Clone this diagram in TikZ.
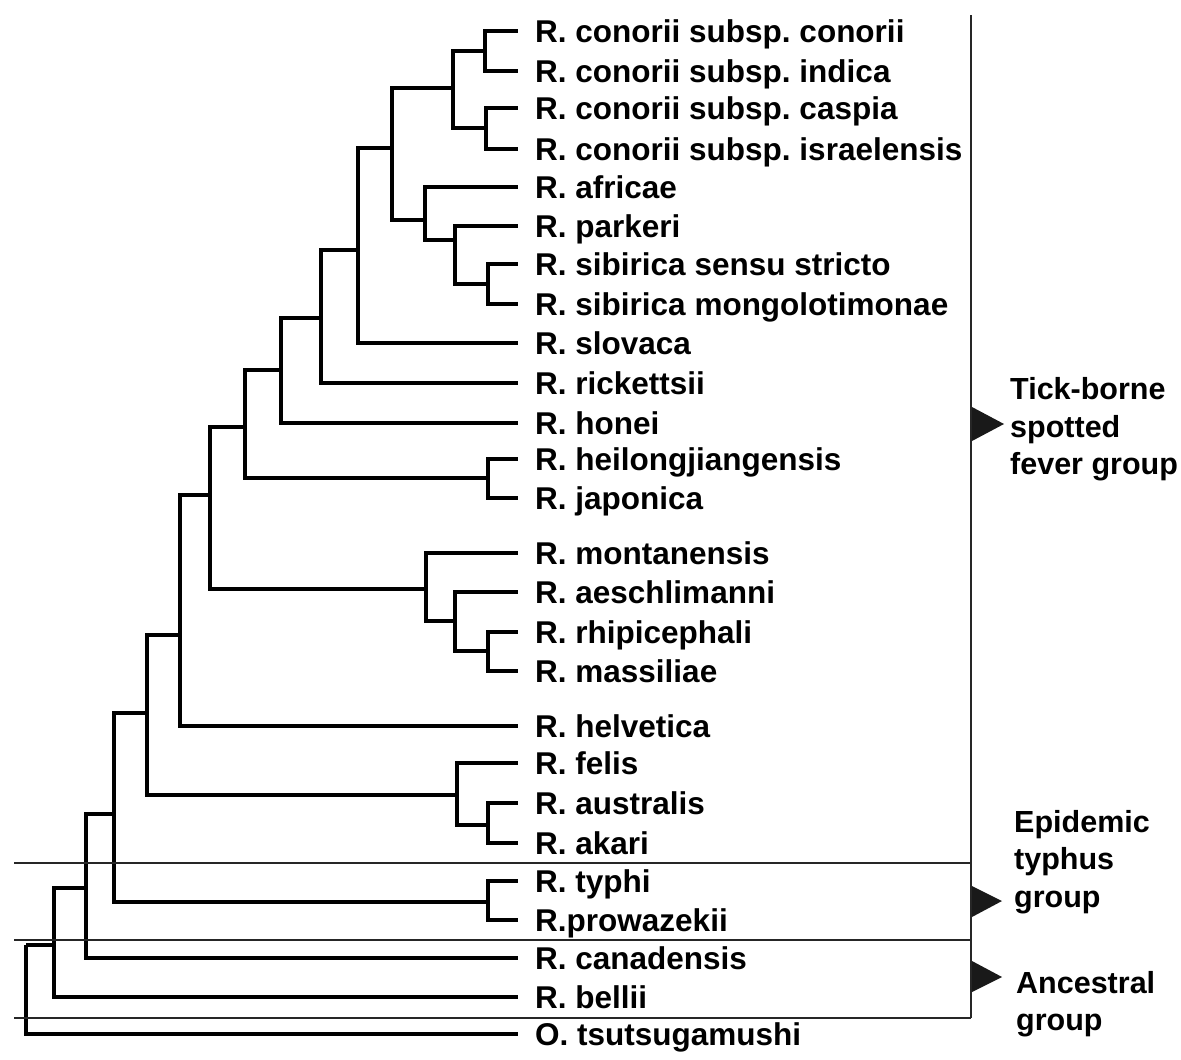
\documentclass[tikz,border=0pt]{standalone}
\usepackage{fontspec}
\setmainfont{Liberation Sans}
\frenchspacing
\begin{document}
\begin{tikzpicture}[x=1pt,y=-1pt,
  tree/.style={line width=3.4pt, draw=black},
  sep/.style={line width=1.8pt, draw=black!85},
  leaf/.style={anchor=west, inner xsep=17pt, inner ysep=0pt, text height=23pt, text depth=0pt, font=\fontsize{31.5}{34}\selectfont\bfseries},
  grp/.style={anchor=base west, inner sep=0pt, font=\fontsize{30.5}{33}\selectfont\bfseries},
  tip/.style={fill=black!90}]
\useasboundingbox (0,0) rectangle (1181,1060);
% leaves
\node[leaf] (l1) at (518,31) {R. conorii subsp. conorii};
\node[leaf] (l2) at (518,71) {R. conorii subsp. indica};
\node[leaf] (l3) at (518,108) {R. conorii subsp. caspia};
\node[leaf] (l4) at (518,149) {R. conorii subsp. israelensis};
\node[leaf] (l5) at (518,187) {R. africae};
\node[leaf] (l6) at (518,226) {R. parkeri};
\node[leaf] (l7) at (518,264) {R. sibirica sensu stricto};
\node[leaf] (l8) at (518,304) {R. sibirica mongolotimonae};
\node[leaf] (l9) at (518,343) {R. slovaca};
\node[leaf] (l10) at (518,383) {R. rickettsii};
\node[leaf] (l11) at (518,423) {R. honei};
\node[leaf] (l12) at (518,459) {R. heilongjiangensis};
\node[leaf] (l13) at (518,498) {R. japonica};
\node[leaf] (l14) at (518,553) {R. montanensis};
\node[leaf] (l15) at (518,592) {R. aeschlimanni};
\node[leaf] (l16) at (518,632) {R. rhipicephali};
\node[leaf] (l17) at (518,671) {R. massiliae};
\node[leaf] (l18) at (518,726) {R. helvetica};
\node[leaf] (l19) at (518,763) {R. felis};
\node[leaf] (l20) at (518,803) {R. australis};
\node[leaf] (l21) at (518,843) {R. akari};
\node[leaf] (l22) at (518,881) {R. typhi};
\node[leaf] (l23) at (518,920) {R.prowazekii};
\node[leaf] (l24) at (518,958) {R. canadensis};
\node[leaf] (l25) at (518,997) {R. bellii};
\node[leaf] (l26) at (518,1034) {O. tsutsugamushi};
% internal nodes
\coordinate (nci) at (485,51);
\coordinate (ncc) at (486,128);
\coordinate (ncon) at (453,88);
\coordinate (nsib) at (488,284);
\coordinate (nps) at (455,240);
\coordinate (naf) at (425,220);
\coordinate (nA) at (392,148);
\coordinate (nB) at (358,250);
\coordinate (nC) at (321,318);
\coordinate (nD) at (281,370);
\coordinate (nhj) at (488,478);
\coordinate (nE) at (245,427);
\coordinate (nrm) at (488,651);
\coordinate (nae) at (455,621);
\coordinate (nmo) at (426,589);
\coordinate (nF) at (210,495);
\coordinate (nG) at (180,635);
\coordinate (naa) at (488,825);
\coordinate (nfe) at (457,795);
\coordinate (nH) at (147,713);
\coordinate (nty) at (488,902);
\coordinate (nI) at (114,814);
\coordinate (nJ) at (86,888);
\coordinate (nK) at (54,945);
\coordinate (nroot) at (26,945);
% branches
\draw[tree] (nci) |- (l1.west); \draw[tree] (nci) |- (l2.west);
\draw[tree] (ncc) |- (l3.west); \draw[tree] (ncc) |- (l4.west);
\draw[tree] (ncon) |- (nci); \draw[tree] (ncon) |- (ncc);
\draw[tree] (nsib) |- (l7.west); \draw[tree] (nsib) |- (l8.west);
\draw[tree] (nps) |- (l6.west); \draw[tree] (nps) |- (nsib);
\draw[tree] (naf) |- (l5.west); \draw[tree] (naf) |- (nps);
\draw[tree] (nA) |- (ncon); \draw[tree] (nA) |- (naf);
\draw[tree] (nB) |- (nA); \draw[tree] (nB) |- (l9.west);
\draw[tree] (nC) |- (nB); \draw[tree] (nC) |- (l10.west);
\draw[tree] (nD) |- (nC); \draw[tree] (nD) |- (l11.west);
\draw[tree] (nhj) |- (l12.west); \draw[tree] (nhj) |- (l13.west);
\draw[tree] (nE) |- (nD); \draw[tree] (nE) |- (nhj);
\draw[tree] (nrm) |- (l16.west); \draw[tree] (nrm) |- (l17.west);
\draw[tree] (nae) |- (l15.west); \draw[tree] (nae) |- (nrm);
\draw[tree] (nmo) |- (l14.west); \draw[tree] (nmo) |- (nae);
\draw[tree] (nF) |- (nE); \draw[tree] (nF) |- (nmo);
\draw[tree] (nG) |- (nF); \draw[tree] (nG) |- (l18.west);
\draw[tree] (naa) |- (l20.west); \draw[tree] (naa) |- (l21.west);
\draw[tree] (nfe) |- (l19.west); \draw[tree] (nfe) |- (naa);
\draw[tree] (nH) |- (nG); \draw[tree] (nH) |- (nfe);
\draw[tree] (nty) |- (l22.west); \draw[tree] (nty) |- (l23.west);
\draw[tree] (nI) |- (nH); \draw[tree] (nI) |- (nty);
\draw[tree] (nJ) |- (nI); \draw[tree] (nJ) |- (l24.west);
\draw[tree] (nK) |- (nJ); \draw[tree] (nK) |- (l25.west);
\draw[tree] (nroot) -- (nK); \draw[tree] (nroot) |- (l26.west);
% group frame
\coordinate (bt) at (971,15);
\coordinate (bb) at (971,1018);
\coordinate (s1a) at (14,863); \coordinate (s1b) at (971,863);
\coordinate (s2a) at (14,940); \coordinate (s2b) at (971,940);
\coordinate (s3a) at (14,1018);
\draw[sep] (bt) -- (bb);
\draw[sep] (s1a) -- (s1b);
\draw[sep] (s2a) -- (s2b);
\draw[sep] (s3a) -- (bb);
% pointers
\fill[tip] (972,407) -- (1004,424) -- (972,441) -- cycle;
\fill[tip] (972,886) -- (1002,901) -- (972,917) -- cycle;
\fill[tip] (972,961) -- (1002,977) -- (972,992) -- cycle;
% group labels
\node[grp] (g1a) at (1010,399) {Tick-borne};
\node[grp] (g1b) at (1010,437) {spotted};
\node[grp] (g1c) at (1010,474) {fever group};
\node[grp] (g2a) at (1014,832) {Epidemic};
\node[grp] (g2b) at (1014,869) {typhus};
\node[grp] (g2c) at (1014,907) {group};
\node[grp] (g3a) at (1016,993) {Ancestral};
\node[grp] (g3b) at (1016,1030) {group};
\end{tikzpicture}
\end{document}
